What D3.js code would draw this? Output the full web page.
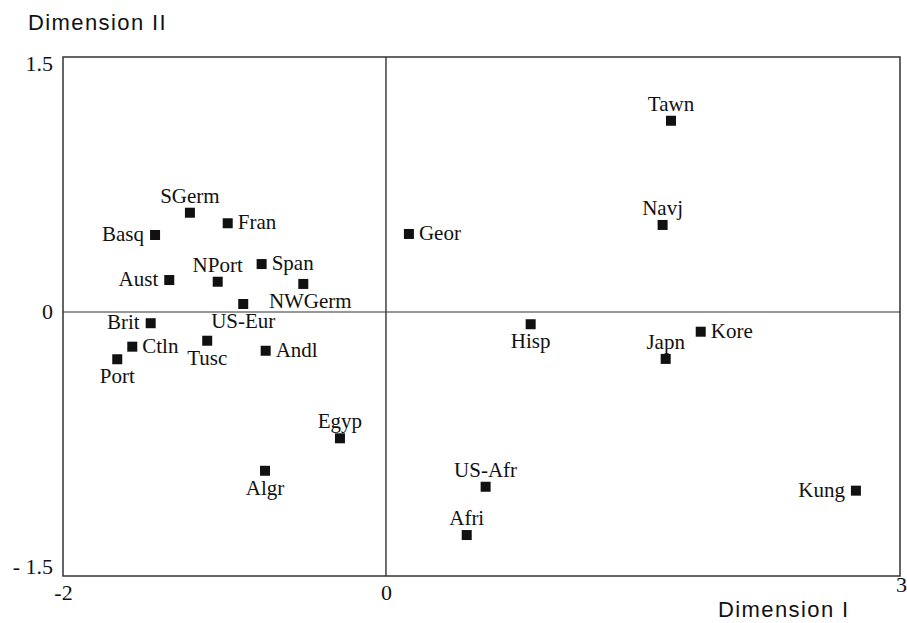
<!DOCTYPE html>
<head>
<style type="text/css">
	body { margin: 0; background: #fff; }
</style>
</head>
<script src="https://d3js.org/d3.v7.min.js"></script>
<body>
	<svg width="907" height="623"></svg>
	<script>
	// country / population codes
	var names = ["Tawn", "Navj", "Geor", "SGerm", "Fran", "Basq", "Aust", "NPort", "Span", "NWGerm",
	             "US-Eur", "Brit", "Ctln", "Port", "Tusc", "Andl", "Hisp", "Japn", "Kore",
	             "Egyp", "Algr", "US-Afr", "Afri", "Kung"];
	var dim1 = [1.765, 1.713, 0.142, -1.214, -0.980, -1.430, -1.342, -1.042, -0.770, -0.512,
	            -0.884, -1.457, -1.571, -1.664, -1.107, -0.745, 0.896, 1.732, 1.949,
	            -0.285, -0.749, 0.617, 0.500, 2.910];
	var dim2 = [1.125, 0.512, 0.459, 0.584, 0.522, 0.453, 0.188, 0.178, 0.282, 0.165,
	            0.047, -0.066, -0.204, -0.278, -0.169, -0.228, -0.072, -0.276, -0.116,
	            -0.743, -0.934, -1.028, -1.312, -1.051];
	// where the label sits: t = above, b = below, l = left, r = right
	var place = ["t", "t", "r", "t", "r", "l", "l", "t", "r", "b",
	             "b", "l", "r", "b", "b", "r", "b", "t", "r",
	             "t", "b", "t", "t", "l"];

	var xTicks = [-2, 0, 3.183];
	var xTickLabels = ["-2", "0", "3"];
	var yTicks = [1.5, 0, -1.5];
	var yTickLabels = ["1.5", "0", "- 1.5"];

	var serif = "'Liberation Serif', 'Times New Roman', Times, 'DejaVu Serif', serif";
	var sans = "'Liberation Sans', Arial, Helvetica, sans-serif";

	var svg = d3.select("svg");
	var m = {left: 63, right: 900, top: 57, bottom: 576};

	var x = d3.scaleLinear().domain([-2, 3.183]).range([m.left, m.right]);
	var y = d3.scaleLinear().domain([-1.553, 1.5]).range([m.bottom, m.top]);

	var data = names.map(function(n, i) {
		return {name: n, x: dim1[i], y: dim2[i], pos: place[i]};
	});

	// zero lines
	svg.append("line")
		.attr("x1", x(0)).attr("x2", x(0))
		.attr("y1", m.top).attr("y2", m.bottom)
		.attr("stroke", "#111").attr("stroke-width", 1.2);
	svg.append("line")
		.attr("x1", m.left).attr("x2", m.right)
		.attr("y1", y(0)).attr("y2", y(0))
		.attr("stroke", "#333").attr("stroke-width", 1.2);

	// frame
	svg.append("rect")
		.attr("x", m.left).attr("y", m.top)
		.attr("width", m.right - m.left).attr("height", m.bottom - m.top)
		.attr("fill", "none").attr("stroke", "#333").attr("stroke-width", 1.5);

	var gx = svg.append("g")
		.attr("transform", "translate(0," + m.bottom + ")")
		.call(d3.axisBottom(x).tickValues(xTicks).tickSize(0).tickPadding(8)
			.tickFormat(function(d, i) { return xTickLabels[i]; }));
	gx.select(".domain").remove();
	gx.attr("font-family", serif).attr("font-size", 22);
	gx.selectAll(".tick text").attr("fill", "#111").attr("dy", "0.71em");
	gx.selectAll(".tick").filter(function(d, i) { return i == 2; })
		.select("text").attr("dx", 1).attr("dy", "0.35em");

	var gy = svg.append("g")
		.attr("transform", "translate(" + m.left + ",0)")
		.call(d3.axisLeft(y).tickValues(yTicks).tickSize(0).tickPadding(10)
			.tickFormat(function(d, i) { return yTickLabels[i]; }));
	gy.select(".domain").remove();
	gy.attr("font-family", serif).attr("font-size", 22);
	gy.selectAll(".tick text").attr("fill", "#111")
		.attr("dy", function(d, i) { return i == 0 ? "0.62em" : "0.3em"; });

	// points
	svg.append("g").selectAll("rect")
		.data(data)
		.enter().append("rect")
		.attr("x", function(d) { return x(d.x) - 5; })
		.attr("y", function(d) { return y(d.y) - 5; })
		.attr("width", 10).attr("height", 10)
		.attr("fill", "#111");

	svg.append("g")
		.attr("font-family", serif).attr("font-size", 21).attr("fill", "#111")
		.selectAll("text")
		.data(data)
		.enter().append("text")
		.attr("x", function(d) {
			if (d.pos == "r") return x(d.x) + 10;
			if (d.pos == "l") return x(d.x) - 11;
			return x(d.x);
		})
		.attr("y", function(d) {
			if (d.pos == "t") return y(d.y) - 10;
			if (d.pos == "b") return y(d.y) + 24;
			return y(d.y) + 6;
		})
		.attr("text-anchor", function(d) {
			if (d.pos == "r") return "start";
			if (d.pos == "l") return "end";
			return "middle";
		})
		.attr("dx", function(d) { return d.name == "NWGerm" ? 7 : 0; })
		.text(function(d) { return d.name; });

	svg.append("text")
		.attr("font-family", sans).attr("font-size", 22).attr("fill", "#111")
		.attr("letter-spacing", 1.4)
		.attr("x", 28).attr("y", 30)
		.text("Dimension II");
	svg.append("text")
		.attr("font-family", sans).attr("font-size", 22).attr("fill", "#111")
		.attr("letter-spacing", 1.4)
		.attr("x", 718).attr("y", 617)
		.text("Dimension I");
	</script>
</body>
